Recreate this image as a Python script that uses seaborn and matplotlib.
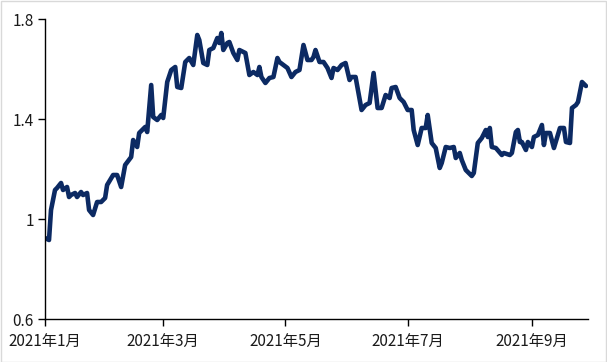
import matplotlib
matplotlib.use("Agg")
import matplotlib.pyplot as plt
import matplotlib.dates as mdates
from matplotlib.patches import Rectangle
import seaborn as sns
import pandas as pd

dates = [
    "2021-01-01", "2021-01-03", "2021-01-04", "2021-01-06", "2021-01-07", "2021-01-09", "2021-01-10",
    "2021-01-12", "2021-01-13", "2021-01-14", "2021-01-16", "2021-01-17", "2021-01-19", "2021-01-20",
    "2021-01-22", "2021-01-23", "2021-01-25", "2021-01-27", "2021-01-29", "2021-01-31",
    "2021-02-01", "2021-02-04", "2021-02-06", "2021-02-08", "2021-02-10", "2021-02-13", "2021-02-14",
    "2021-02-16", "2021-02-17", "2021-02-20", "2021-02-21", "2021-02-23", "2021-02-24", "2021-02-26",
    "2021-02-28",
    "2021-03-01", "2021-03-03", "2021-03-05", "2021-03-07", "2021-03-08", "2021-03-10", "2021-03-12",
    "2021-03-14", "2021-03-16", "2021-03-18", "2021-03-19", "2021-03-21", "2021-03-23", "2021-03-24",
    "2021-03-26", "2021-03-28", "2021-03-29", "2021-03-30", "2021-03-31",
    "2021-04-02", "2021-04-03", "2021-04-05", "2021-04-07", "2021-04-08", "2021-04-11", "2021-04-13",
    "2021-04-15", "2021-04-17", "2021-04-18", "2021-04-19", "2021-04-21", "2021-04-23", "2021-04-25",
    "2021-04-27", "2021-04-28", "2021-04-30",
    "2021-05-02", "2021-05-04", "2021-05-06", "2021-05-08", "2021-05-10", "2021-05-12", "2021-05-14",
    "2021-05-15", "2021-05-16", "2021-05-18", "2021-05-20", "2021-05-22", "2021-05-24", "2021-05-25",
    "2021-05-27", "2021-05-29", "2021-05-31",
    "2021-06-02", "2021-06-03", "2021-06-05", "2021-06-08", "2021-06-10", "2021-06-12", "2021-06-14",
    "2021-06-16", "2021-06-18", "2021-06-20", "2021-06-22", "2021-06-23", "2021-06-25", "2021-06-27",
    "2021-06-29",
    "2021-07-01", "2021-07-03", "2021-07-04", "2021-07-06", "2021-07-08", "2021-07-10", "2021-07-11",
    "2021-07-13", "2021-07-15", "2021-07-17", "2021-07-18", "2021-07-20", "2021-07-22", "2021-07-24",
    "2021-07-25", "2021-07-27", "2021-07-28", "2021-07-30",
    "2021-08-02", "2021-08-03", "2021-08-05", "2021-08-07", "2021-08-09", "2021-08-10", "2021-08-11",
    "2021-08-12", "2021-08-14", "2021-08-17", "2021-08-18", "2021-08-21", "2021-08-22", "2021-08-24",
    "2021-08-25", "2021-08-26", "2021-08-27", "2021-08-29", "2021-08-30",
    "2021-09-01", "2021-09-02", "2021-09-04", "2021-09-06", "2021-09-07", "2021-09-08", "2021-09-10",
    "2021-09-12", "2021-09-15", "2021-09-17", "2021-09-18", "2021-09-20", "2021-09-21", "2021-09-23",
    "2021-09-24", "2021-09-26", "2021-09-28",
]

values = [
    0.924, 0.916, 1.036, 1.116, 1.124, 1.144, 1.116,
    1.128, 1.088, 1.096, 1.104, 1.088, 1.108, 1.096,
    1.104, 1.036, 1.016, 1.068, 1.068, 1.084,
    1.136, 1.176, 1.176, 1.128, 1.216, 1.248, 1.316,
    1.288, 1.344, 1.368, 1.348, 1.536, 1.408, 1.396,
    1.416,
    1.404, 1.548, 1.596, 1.608, 1.528, 1.524, 1.628,
    1.644, 1.616, 1.736, 1.716, 1.624, 1.616, 1.676,
    1.684, 1.724, 1.704, 1.744, 1.676,
    1.704, 1.708, 1.664, 1.636, 1.676, 1.664, 1.576,
    1.588, 1.576, 1.608, 1.568, 1.544, 1.564, 1.568,
    1.644, 1.628, 1.616,
    1.604, 1.568, 1.588, 1.596, 1.696, 1.636, 1.636,
    1.648, 1.676, 1.628, 1.628, 1.604, 1.564, 1.604,
    1.596, 1.616, 1.624,
    1.556, 1.568, 1.568, 1.436, 1.456, 1.464, 1.584,
    1.444, 1.444, 1.496, 1.484, 1.524, 1.528, 1.484,
    1.468,
    1.436, 1.436, 1.356, 1.296, 1.364, 1.364, 1.416,
    1.304, 1.284, 1.204, 1.224, 1.288, 1.284, 1.288,
    1.244, 1.264, 1.236, 1.196,
    1.172, 1.184, 1.304, 1.324, 1.356, 1.328, 1.364,
    1.288, 1.284, 1.256, 1.264, 1.256, 1.264, 1.348,
    1.356, 1.308, 1.308, 1.276, 1.308,
    1.288, 1.328, 1.336, 1.376, 1.296, 1.344, 1.344,
    1.284, 1.364, 1.364, 1.308, 1.304, 1.444, 1.456,
    1.468, 1.548, 1.532,
]

x_ticks = ["2021-01-01", "2021-03-01", "2021-05-01", "2021-07-01", "2021-09-01"]
x_tick_labels = ["2021年1月", "2021年3月", "2021年5月", "2021年7月", "2021年9月"]
y_ticks = [0.6, 1.0, 1.4, 1.8]
y_tick_labels = ["0.6", "1", "1.4", "1.8"]

df = pd.DataFrame({"date": pd.to_datetime(dates), "value": values})

sns.set_theme(style="white")
plt.rcParams["font.family"] = ["Noto Sans CJK SC", "DejaVu Sans"]

fig = plt.figure(figsize=(6.07, 3.62), dpi=100)
ax = fig.add_axes([45 / 607, 43 / 362, 543 / 607, 300 / 362])

sns.lineplot(data=df, x="date", y="value", ax=ax, color="#0c2a63", linewidth=3.3)

ax.set_xlim(pd.Timestamp("2021-01-01"), pd.Timestamp("2021-09-29"))
ax.set_ylim(0.6, 1.8)
ax.set_xticks(pd.to_datetime(x_ticks))
ax.set_xticklabels(x_tick_labels)
ax.set_yticks(y_ticks)
ax.set_yticklabels(y_tick_labels)
ax.set_xlabel("")
ax.set_ylabel("")

for side in ["top", "right"]:
    ax.spines[side].set_visible(False)
for side in ["left", "bottom"]:
    ax.spines[side].set_visible(True)
    ax.spines[side].set_color("#000000")
    ax.spines[side].set_linewidth(1.0)

ax.tick_params(axis="both", which="major", direction="out", length=5, width=1,
               color="#000000", labelsize=11, labelcolor="#1a1a1a", pad=5,
               left=True, bottom=True)
ax.tick_params(axis="y", pad=3)

fig.patches.append(Rectangle((0.5 / 607, 0.5 / 362), 605.5 / 607, 360.5 / 362,
                             transform=fig.transFigure, fill=False,
                             edgecolor="#d9d9d9", linewidth=1.0))

fig.savefig("out.png", dpi=100)
